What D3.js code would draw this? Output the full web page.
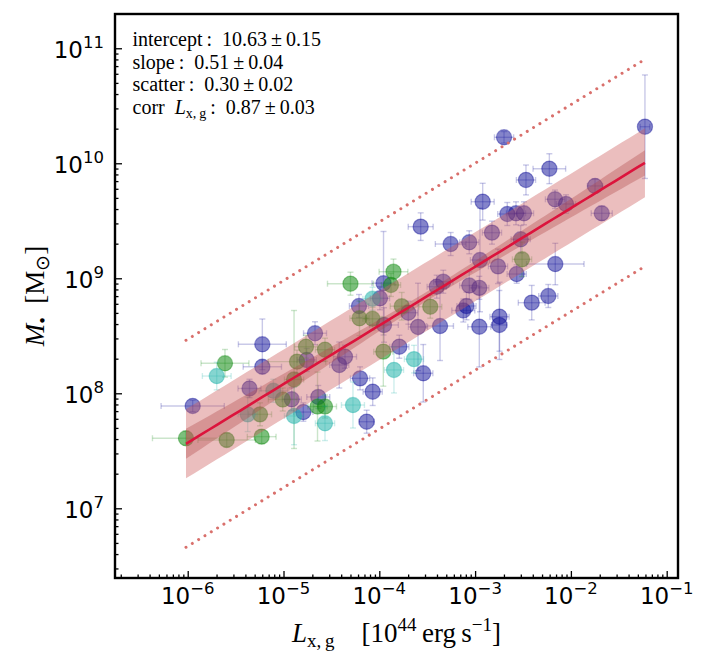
<!DOCTYPE html>
<html>
<head>
<meta charset="utf-8">
<script src="https://cdn.jsdelivr.net/npm/d3@7"></script>
<style>
  body { margin: 0; background: #fff; }
</style>
</head>
<body>
<div id="chart"></div>
<script>
// all values are log10
// axis limits
const xLim = [-6.759, -0.882]
const yLim = [6.394, 11.298]
const xTickExp = [-6, -5, -4, -3, -2, -1]
const yTickExp = [7, 8, 9, 10, 11]

// blue sample: log Lx, log M, half error bars (dex)
const blueLx = [-5.948, -5.221, -5.221, -5.355, -4.671, -4.758, -4.358, -4.418, -4.914, -4.793,
  -4.637, -4.212, -4.201, -4.132, -4.069, -3.956, -3.993, -3.951, -3.791, -3.697,
  -3.596, -3.541, -3.366, -3.401, -3.332, -3.123, -3.090, -3.061, -2.956, -2.956,
  -2.949, -2.761, -2.745, -2.747, -3.568, -3.255, -3.061, -2.824, -2.524, -2.921,
  -2.664, -2.573, -2.490, -2.469, -2.225, -2.698, -2.166, -2.051, -1.748, -1.678,
  -2.163, -2.566, -2.409, -2.236, -1.227]
const blueLm = [7.890, 8.426, 8.231, 8.042, 8.522, 8.290, 8.318, 8.246, 7.948, 7.837,
  7.968, 8.759, 8.130, 7.753, 8.014, 8.957, 8.826, 8.594, 8.405, 8.701,
  8.577, 8.174, 8.585, 8.927, 8.970, 8.720, 8.759, 8.937, 8.917, 8.579,
  9.159, 9.104, 8.666, 8.594, 9.449, 9.298, 9.313, 9.397, 9.339, 9.666,
  9.559, 9.565, 9.565, 9.855, 9.953, 10.226, 9.687, 9.646, 9.803, 9.565,
  9.124, 9.037, 8.788, 8.846, 10.318]
const blueEx = [0.33, 0.25, 0.2, 0.12, 0.12, 0.1, 0.12, 0.1, 0.1, 0.1,
  0.12, 0.1, 0.1, 0.08, 0.1, 0.12, 0.1, 0.15, 0.1, 0.1,
  0.1, 0.1, 0.14, 0.1, 0.1, 0.12, 0.1, 0.1, 0.1, 0.12,
  0.1, 0.1, 0.1, 0.08, 0.13, 0.16, 0.1, 0.1, 0.1, 0.12,
  0.1, 0.1, 0.1, 0.1, 0.17, 0.1, 0.1, 0.1, 0.08, 0.11,
  0.3, 0.1, 0.14, 0.1, 0.05]
const blueEm = [0.05, 0.22, 0.06, 0.08, 0.1, 0.1, 0.1, 0.2, 0.1, 0.08,
  0.1, 0.1, 0.1, 0.1, 0.12, 0.45, 0.1, 0.15, 0.1, 0.1,
  0.38, 0.25, 0.3, 0.1, 0.1, 0.1, 0.12, 0.12, 0.1, 0.35,
  0.45, 0.15, 0.3, 0.3, 0.12, 0.1, 0.1, 0.1, 0.12, 0.16,
  0.1, 0.1, 0.1, 0.13, 0.13, 0.05, 0.08, 0.08, 0.06, 0.06,
  0.18, 0.08, 0.15, 0.1, 0.45]

// green sample
const greenLx = [-6.018, -5.611, -5.593, -5.228, -5.245, -5.008, -4.859, -4.890, -4.765, -4.567,
  -4.645, -4.567, -4.207, -4.301, -4.071, -3.852, -3.878, -3.958, -3.766, -3.468, -2.510]
const greenLm = [7.609, 8.261, 7.594, 7.623, 7.817, 7.946, 8.275, 8.120, 8.405, 8.379,
  7.885, 7.885, 8.652, 8.953, 8.648, 9.057, 8.942, 8.362, 8.757, 8.753, 9.165]
const greenEx = [0.35, 0.25, 0.3, 0.15, 0.12, 0.15, 0.3, 0.1, 0.12, 0.1,
  0.1, 0.12, 0.1, 0.24, 0.1, 0.15, 0.1, 0.1, 0.12, 0.12, 0.1]
const greenEm = [0.06, 0.12, 0.06, 0.06, 0.1, 0.1, 0.1, 0.6, 0.1, 0.1,
  0.3, 0.1, 0.15, 0.1, 0.1, 0.11, 0.1, 0.3, 0.12, 0.1, 0.15]

// cyan sample
const cyanLx = [-5.697, -5.374, -5.106, -4.890, -4.567, -4.275, -4.071, -3.847, -3.638]
const cyanLm = [8.150, 7.817, 8.022, 7.803, 7.739, 7.898, 8.822, 8.203, 8.297]
const cyanEx = [0.15, 0.1, 0.15, 0.1, 0.1, 0.12, 0.1, 0.1, 0.1]
const cyanEm = [0.12, 0.15, 0.1, 0.25, 0.15, 0.2, 0.1, 0.2, 0.12]

// fit results (shown in the corner)
const fitIntercept = 10.63
const fitSlope = 0.51
const fitScatter = 0.30
const fitText = [
  ['intercept', '10.63', '0.15'],
  ['slope', '0.51', '0.04'],
  ['scatter', '0.30', '0.02'],
  ['corr', '0.87', '0.03']
]
// half width of the fit uncertainty band, read at a few x positions
const bandKnotX = [-6.02, -5.0, -4.0, -3.5, -3.0, -2.0, -1.23]
const bandKnotW = [0.13, 0.09, 0.05, 0.04, 0.05, 0.08, 0.11]

const W = 712
const H = 667
const box = { l: 115, r: 678, t: 14, b: 578 }

const svg = d3.select('#chart').append('svg')
  .attr('width', W).attr('height', H)

const x = d3.scaleLog().domain(xLim.map(v => 10 ** v)).range([box.l, box.r])
const y = d3.scaleLog().domain(yLim.map(v => 10 ** v)).range([box.b, box.t])

const groups = [
  { color: '#0a0a96', alpha: 0.5, lx: blueLx, lm: blueLm, ex: blueEx, em: blueEm },
  { color: '#108a10', alpha: 0.55, lx: greenLx, lm: greenLm, ex: greenEx, em: greenEm },
  { color: '#20b2aa', alpha: 0.55, lx: cyanLx, lm: cyanLm, ex: cyanEx, em: cyanEm }
]

const plot = svg.append('g')
const cap = 3

groups.forEach(g => {
  const pts = g.lx.map((v, i) => ({ lx: v, lm: g.lm[i], ex: g.ex[i], em: g.em[i] }))
  const eb = plot.append('g')
    .attr('stroke', g.color).attr('stroke-opacity', 0.22).attr('stroke-width', 1.4)
  pts.forEach(p => {
    const cx = x(10 ** p.lx), cy = y(10 ** p.lm)
    const x0 = x(10 ** (p.lx - p.ex)), x1 = x(10 ** (p.lx + p.ex))
    const y0 = y(10 ** (p.lm - p.em)), y1 = y(10 ** (p.lm + p.em))
    eb.append('line').attr('x1', x0).attr('x2', x1).attr('y1', cy).attr('y2', cy)
    eb.append('line').attr('x1', cx).attr('x2', cx).attr('y1', y0).attr('y2', y1)
    ;[x0, x1].forEach(xx => eb.append('line')
      .attr('x1', xx).attr('x2', xx).attr('y1', cy - cap).attr('y2', cy + cap))
    ;[y0, y1].forEach(yy => eb.append('line')
      .attr('x1', cx - cap).attr('x2', cx + cap).attr('y1', yy).attr('y2', yy))
  })
  plot.append('g').selectAll('circle').data(pts).join('circle')
    .attr('cx', p => x(10 ** p.lx))
    .attr('cy', p => y(10 ** p.lm))
    .attr('r', 7.6)
    .attr('fill', g.color).attr('fill-opacity', g.alpha)
    .attr('stroke', g.color).attr('stroke-opacity', 0.4).attr('stroke-width', 1.2)
})

// fit line and bands
const allLx = groups.flatMap(g => g.lx)
const fitX = d3.range(d3.min(allLx), d3.max(allLx) + 1e-9, (d3.max(allLx) - d3.min(allLx)) / 60)
fitX[fitX.length - 1] = d3.max(allLx)
const fitY = v => fitIntercept + fitSlope * v
const bandW = d3.scaleLinear().domain(bandKnotX).range(bandKnotW).clamp(true)

const area = (lo, hi) => d3.area()
  .x(v => x(10 ** v))
  .y0(v => y(10 ** lo(v)))
  .y1(v => y(10 ** hi(v)))

plot.append('path').datum(fitX)
  .attr('d', area(v => fitY(v) - fitScatter, v => fitY(v) + fitScatter))
  .attr('fill', '#cd5c5c').attr('fill-opacity', 0.4)
plot.append('path').datum(fitX)
  .attr('d', area(v => fitY(v) - bandW(v), v => fitY(v) + bandW(v)))
  .attr('fill', '#b04848').attr('fill-opacity', 0.35)

const line = off => d3.line().x(v => x(10 ** v)).y(v => y(10 ** (fitY(v) + off)))
plot.append('path').datum(fitX).attr('d', line(0))
  .attr('fill', 'none').attr('stroke', '#dc143c').attr('stroke-width', 2.6)
;[3, -3].forEach(k => plot.append('path').datum(fitX).attr('d', line(k * fitScatter))
  .attr('fill', 'none').attr('stroke', '#d9706c').attr('stroke-width', 3)
  .attr('stroke-linecap', 'round').attr('stroke-dasharray', '0.01 7.4'))

// ticks (inward, left and bottom)
const decades = d3.range(-7, 0)
const xMinor = decades.flatMap(e => d3.range(2, 10).map(k => k * 10 ** e))
  .filter(v => v > 10 ** xLim[0] && v < 10 ** xLim[1])
const yMinor = d3.range(6, 12).flatMap(e => d3.range(2, 10).map(k => k * 10 ** e))
  .filter(v => v > 10 ** yLim[0] && v < 10 ** yLim[1])

const axisStyle = g => {
  g.select('.domain').remove()
  g.selectAll('text').remove()
  g.selectAll('line').attr('stroke', '#000').attr('stroke-width', 1.3)
}
svg.append('g').attr('transform', `translate(0,${box.b})`)
  .call(d3.axisBottom(x).tickValues(xTickExp.map(e => 10 ** e)).tickSize(-7).tickSizeOuter(0))
  .call(axisStyle)
svg.append('g').attr('transform', `translate(0,${box.b})`)
  .call(d3.axisBottom(x).tickValues(xMinor).tickSize(-3.5).tickSizeOuter(0))
  .call(axisStyle)
svg.append('g').attr('transform', `translate(${box.l},0)`)
  .call(d3.axisLeft(y).tickValues(yTickExp.map(e => 10 ** e)).tickSize(-7).tickSizeOuter(0))
  .call(axisStyle)
svg.append('g').attr('transform', `translate(${box.l},0)`)
  .call(d3.axisLeft(y).tickValues(yMinor).tickSize(-3.5).tickSizeOuter(0))
  .call(axisStyle)

// frame
svg.append('rect')
  .attr('x', box.l).attr('y', box.t)
  .attr('width', box.r - box.l).attr('height', box.b - box.t)
  .attr('fill', 'none').attr('stroke', '#000').attr('stroke-width', 2.4)

// tick labels
const tickFont = 'DejaVu Sans, sans-serif'
xTickExp.forEach(e => {
  const t = svg.append('text')
    .attr('x', x(10 ** e)).attr('y', box.b + 25.5)
    .attr('text-anchor', 'middle')
    .attr('font-family', tickFont).attr('font-size', 23)
  t.append('tspan').text('10')
  t.append('tspan').attr('dy', -10).attr('font-size', 16.5).text('\u2212' + Math.abs(e))
})
yTickExp.forEach(e => {
  const t = svg.append('text')
    .attr('x', box.l - 11).attr('y', y(10 ** e) + 9.5)
    .attr('text-anchor', 'end')
    .attr('font-family', tickFont).attr('font-size', 23)
  t.append('tspan').text('10')
  t.append('tspan').attr('dy', -10).attr('font-size', 16.5).text(e)
})

// axis labels
const serif = 'Liberation Serif, Times New Roman, serif'
const xl = svg.append('text')
  .attr('x', (box.l + box.r) / 2).attr('y', 642)
  .attr('text-anchor', 'middle')
  .attr('font-family', serif).attr('font-size', 27)
xl.append('tspan').attr('font-style', 'italic').text('L')
xl.append('tspan').attr('font-size', 19).attr('dy', 5).text('x,\u2009g')
xl.append('tspan').attr('dy', -5).text('\u2003[10')
xl.append('tspan').attr('font-size', 19).attr('dy', -11).text('44')
xl.append('tspan').attr('dy', 11).text('\u2009erg\u2009s')
xl.append('tspan').attr('font-size', 19).attr('dy', -11).text('\u22121')
xl.append('tspan').attr('dy', 11).text(']')

const yl = svg.append('text')
  .attr('transform', `translate(44,${(box.t + box.b) / 2}) rotate(-90)`)
  .attr('text-anchor', 'middle')
  .attr('font-family', serif).attr('font-size', 27)
yl.append('tspan').attr('font-style', 'italic').text('M')
yl.append('tspan').attr('font-size', 19).attr('dy', 5).text('\u2022')
yl.append('tspan').attr('dy', -5).text('\u2002[M')
yl.append('tspan').attr('font-size', 19).attr('dy', 5).text('\u2299')
yl.append('tspan').attr('dy', -5).text(']')

// fit annotation
fitText.forEach((row, i) => {
  const t = svg.append('text')
    .attr('x', 132.5).attr('y', 46 + i * 22.6)
    .attr('font-family', serif).attr('font-size', 20)
  if (row[0] === 'corr') {
    t.append('tspan').text('corr\u2002')
    t.append('tspan').attr('font-style', 'italic').text('L')
    t.append('tspan').attr('font-size', 14).attr('dy', 4).text('x,\u2009g')
    t.append('tspan').attr('dy', -4).text('\u2009:\u2002' + row[1] + '\u2009\u00b1\u2009' + row[2])
  } else {
    t.text(row[0] + '\u2009:\u2002' + row[1] + '\u2009\u00b1\u2009' + row[2])
  }
})
</script>
</body>
</html>
